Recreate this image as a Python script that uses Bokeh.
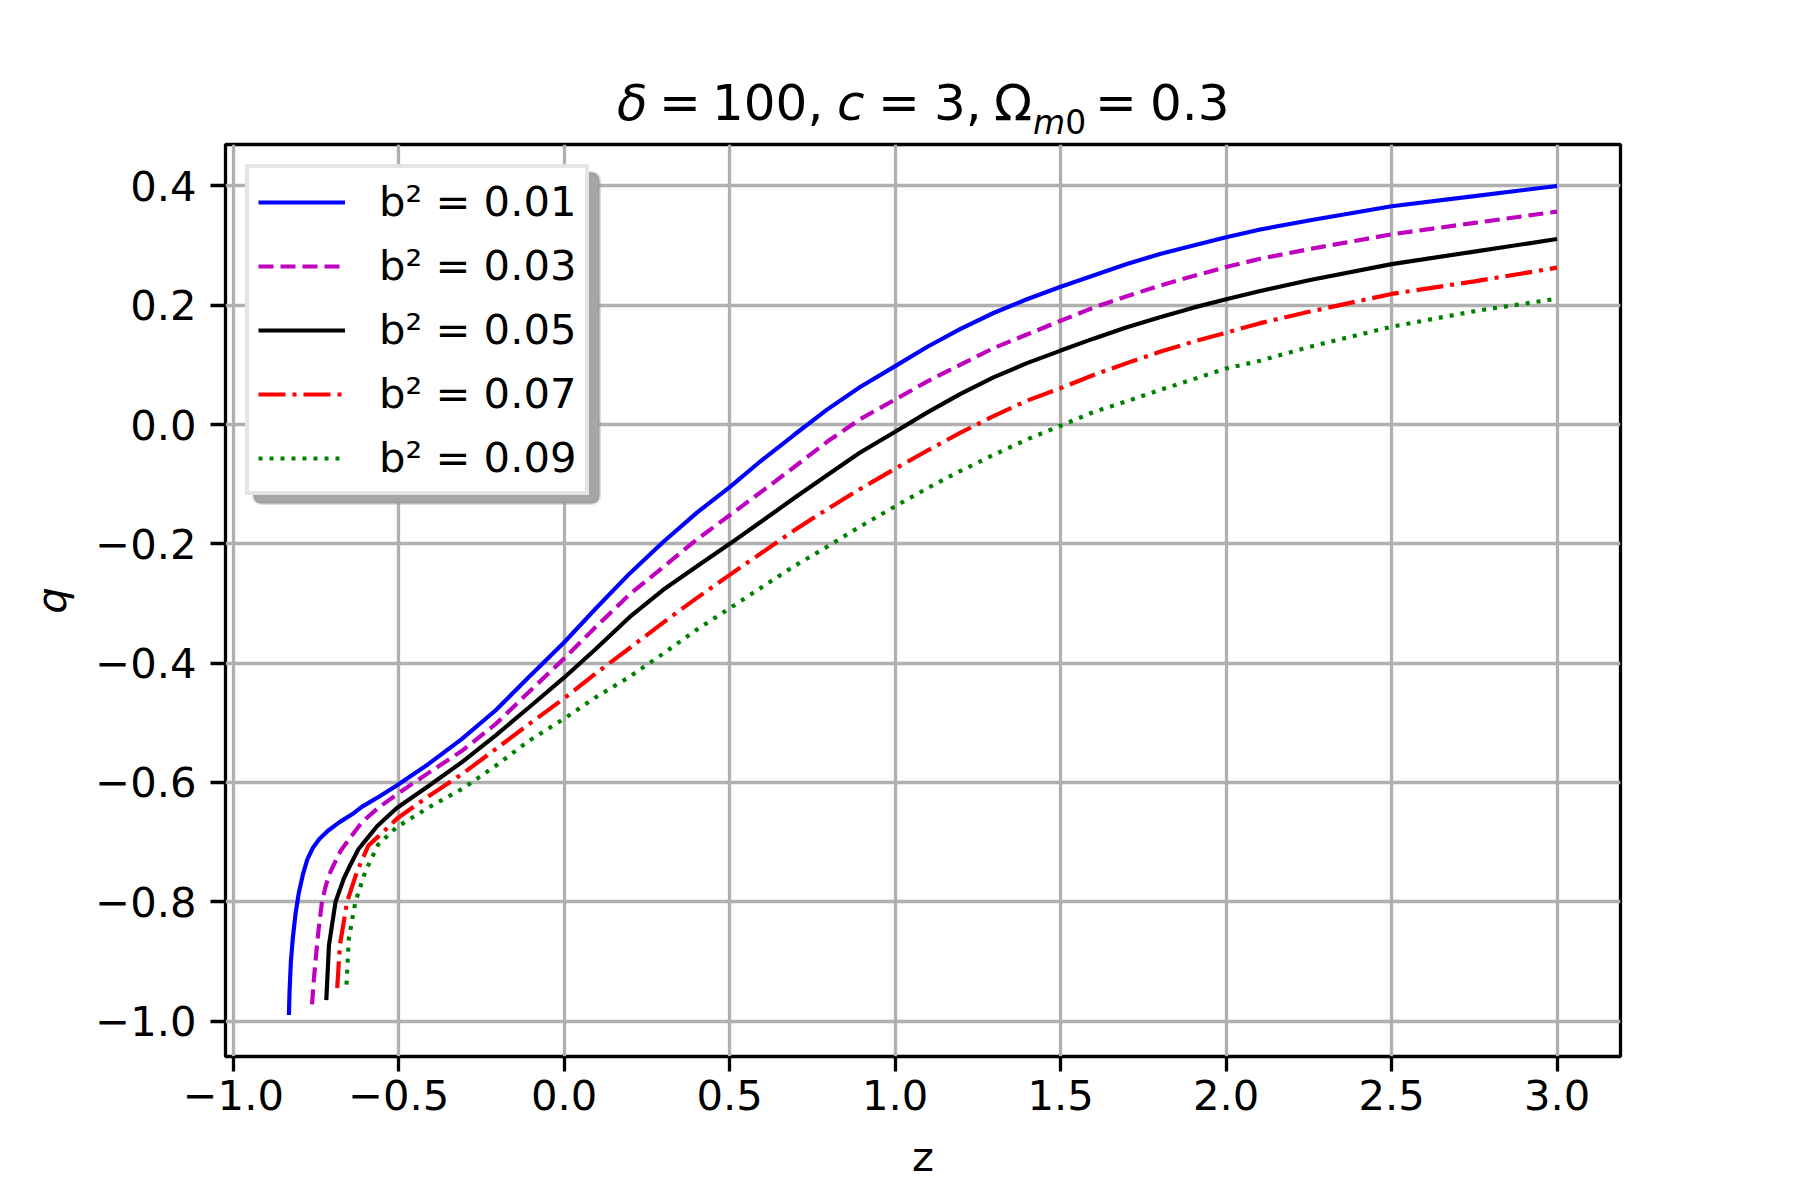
import numpy as np
from bokeh.plotting import figure
from bokeh.layouts import column
from bokeh.models import (Range1d, FixedTicker, CustomJSTickFormatter, Legend,
                          LegendItem, BoxAnnotation, Div)
from bokeh.embed import file_html
from bokeh.resources import INLINE

# ---------------- data ----------------
z_b01 = [-0.832, -0.830, -0.826, -0.820, -0.812, -0.802, -0.790, -0.777, -0.760,
         -0.740, -0.714, -0.680, -0.640, -0.612, -0.560, -0.506, -0.410, -0.309,
         -0.207, -0.106, 0.000, 0.096, 0.197, 0.299, 0.400, 0.500, 0.592, 0.693,
         0.794, 0.894, 1.000, 1.096, 1.196, 1.297, 1.398, 1.500, 1.599, 1.700,
         1.800, 1.901, 2.000, 2.103, 2.250, 2.500, 2.750, 3.000]
q_b01 = [-0.990, -0.950, -0.900, -0.860, -0.820, -0.785, -0.755, -0.730, -0.710,
         -0.695, -0.681, -0.667, -0.653, -0.641, -0.624, -0.605, -0.569, -0.527,
         -0.479, -0.423, -0.365, -0.308, -0.250, -0.197, -0.148, -0.105, -0.062, -0.018,
         0.025, 0.063, 0.098, 0.130, 0.160, 0.187, 0.210, 0.231, 0.250, 0.269,
         0.286, 0.300, 0.314, 0.327, 0.342, 0.366, 0.383, 0.400]

z_b03 = [-0.762, -0.758, -0.752, -0.743, -0.732, -0.720, -0.706, -0.676, -0.650,
         -0.612, -0.565, -0.506, -0.410, -0.309, -0.207, -0.106, 0.000, 0.096, 0.197,
         0.299, 0.400, 0.500, 0.602, 0.693, 0.794, 0.894, 1.000, 1.096, 1.196,
         1.297, 1.398, 1.500, 1.599, 1.700, 1.800, 1.901, 2.000, 2.103, 2.250,
         2.500, 2.750, 3.000]
q_b03 = [-0.972, -0.940, -0.901, -0.850, -0.800, -0.772, -0.749, -0.715, -0.695,
         -0.667, -0.644, -0.620, -0.584, -0.547, -0.502, -0.448, -0.392, -0.339, -0.285,
         -0.239, -0.193, -0.152, -0.110, -0.072, -0.029, 0.009, 0.042, 0.072, 0.100,
         0.128, 0.151, 0.174, 0.196, 0.215, 0.233, 0.249, 0.264, 0.278, 0.294,
         0.319, 0.338, 0.357]

z_b05 = [-0.719, -0.711, -0.691, -0.666, -0.646, -0.622, -0.590, -0.565, -0.506,
         -0.410, -0.309, -0.207, -0.106, 0.000, 0.096, 0.197, 0.299, 0.400, 0.500,
         0.602, 0.693, 0.794, 0.894, 1.000, 1.096, 1.196, 1.297, 1.398, 1.500,
         1.599, 1.700, 1.800, 1.901, 2.000, 2.103, 2.250, 2.500, 2.750, 3.000]
q_b05 = [-0.965, -0.873, -0.800, -0.761, -0.738, -0.712, -0.690, -0.673, -0.643,
         -0.606, -0.566, -0.521, -0.474, -0.424, -0.376, -0.323, -0.277, -0.238, -0.200,
         -0.160, -0.124, -0.085, -0.047, -0.012, 0.020, 0.051, 0.079, 0.103, 0.124,
         0.144, 0.163, 0.180, 0.196, 0.210, 0.224, 0.242, 0.269, 0.290, 0.311]

z_b07 = [-0.686, -0.678, -0.656, -0.626, -0.592, -0.545, -0.506, -0.410, -0.309,
         -0.207, -0.106, 0.000, 0.096, 0.197, 0.299, 0.400, 0.500, 0.602, 0.693,
         0.794, 0.894, 1.000, 1.096, 1.196, 1.297, 1.398, 1.500, 1.599, 1.700,
         1.800, 1.901, 2.000, 2.103, 2.250, 2.500, 2.750, 3.000]
q_b07 = [-0.945, -0.873, -0.800, -0.749, -0.706, -0.682, -0.661, -0.623, -0.586,
         -0.544, -0.502, -0.459, -0.417, -0.375, -0.332, -0.291, -0.252, -0.213, -0.178,
         -0.142, -0.108, -0.074, -0.044, -0.014, 0.014, 0.040, 0.061, 0.083, 0.103,
         0.122, 0.139, 0.154, 0.170, 0.189, 0.219, 0.240, 0.263]

z_b09 = [-0.658, -0.651, -0.631, -0.601, -0.562, -0.535, -0.506, -0.410, -0.309,
         -0.207, -0.106, 0.000, 0.096, 0.197, 0.299, 0.400, 0.500, 0.602, 0.693,
         0.794, 0.894, 1.000, 1.096, 1.196, 1.297, 1.398, 1.500, 1.599, 1.700,
         1.800, 1.901, 2.000, 2.103, 2.250, 2.500, 2.750, 3.000]
q_b09 = [-0.939, -0.862, -0.800, -0.749, -0.704, -0.690, -0.675, -0.642, -0.611,
         -0.572, -0.530, -0.493, -0.457, -0.423, -0.384, -0.344, -0.308, -0.271, -0.238,
         -0.205, -0.171, -0.137, -0.107, -0.078, -0.051, -0.025, -0.002, 0.021, 0.039,
         0.058, 0.076, 0.094, 0.107, 0.130, 0.164, 0.190, 0.211]

series_labels = ["b\u00b2 = 0.01", "b\u00b2 = 0.03", "b\u00b2 = 0.05",
                 "b\u00b2 = 0.07", "b\u00b2 = 0.09"]
x_ticks = [-1.0, -0.5, 0.0, 0.5, 1.0, 1.5, 2.0, 2.5, 3.0]
y_ticks = [-1.0, -0.8, -0.6, -0.4, -0.2, 0.0, 0.2, 0.4]
x_label = "z"
y_label = "q"

# ---------------- styling ----------------
FONT = "DejaVu Sans"
TICK_FS = "41.7px"
LW = 4.17
colors = ["#0000ff", "#bf00bf", "#000000", "#ff0000", "#008000"]
dashes = ["solid", "15 7", "solid", "27 7 4 7", "4 7"]

zs = [z_b01, z_b03, z_b05, z_b07, z_b09]
qs = [q_b01, q_b03, q_b05, q_b07, q_b09]

all_z = np.concatenate([np.array(a) for a in zs])
all_q = np.concatenate([np.array(a) for a in qs])
xpad = 0.05 * (all_z.max() - all_z.min())
ypad = 0.05 * (all_q.max() - all_q.min())
x0, x1 = all_z.min() - xpad, all_z.max() + xpad
y0, y1 = all_q.min() - ypad, all_q.max() + ypad

PAGE_W, PAGE_H = 1796, 1196
DIV_H = 140
FL, FT, FW, FH = 225, 144, 1395, 912   # frame position on page

p = figure(frame_width=FW, frame_height=FH,
           x_range=Range1d(x0, x1), y_range=Range1d(y0, y1),
           output_backend="svg", toolbar_location=None,
           min_border_left=FL, min_border_top=FT - DIV_H,
           min_border_right=PAGE_W - FL - FW, min_border_bottom=PAGE_H - FT - FH,
           background_fill_color="white", border_fill_color="white",
           margin=(0, 0, 0, 0))

p.outline_line_color = "black"
p.outline_line_width = 3.3

for ax in (p.xaxis[0], p.yaxis[0]):
    ax.axis_line_color = None
    ax.major_tick_out = 15
    ax.major_tick_in = 0
    ax.major_tick_line_width = 3.3
    ax.major_tick_line_color = "black"
    ax.minor_tick_line_color = None
    ax.major_label_text_font = FONT
    ax.major_label_text_font_size = TICK_FS
    ax.major_label_text_color = "black"
    ax.axis_label_text_font = FONT
    ax.axis_label_text_font_size = TICK_FS
    ax.axis_label_text_color = "black"
    ax.formatter = CustomJSTickFormatter(code="return tick.toFixed(1).replace('-', '\\u2212');")

p.xaxis[0].major_label_standoff = 8
p.yaxis[0].major_label_standoff = 14
p.xaxis[0].ticker = FixedTicker(ticks=x_ticks)
p.yaxis[0].ticker = FixedTicker(ticks=y_ticks)
p.xaxis[0].axis_label = x_label
p.yaxis[0].axis_label = y_label
p.xaxis[0].axis_label_text_font_style = "normal"
p.yaxis[0].axis_label_text_font_style = "italic"
p.xaxis[0].axis_label_standoff = 19
p.yaxis[0].axis_label_standoff = 16

p.grid.grid_line_color = "#b0b0b0"
p.grid.grid_line_width = 3.3
p.xgrid.ticker = FixedTicker(ticks=x_ticks)
p.ygrid.ticker = FixedTicker(ticks=y_ticks)

renderers = []
for z, q, c, d in zip(zs, qs, colors, dashes):
    r = p.line(z, q, line_color=c, line_width=LW, line_dash=d)
    renderers.append(r)

# legend shadow: page pixel positions converted to data coordinates
sx = FW / (x1 - x0)
sy = FH / (y1 - y0)
def cx(px):
    return x0 + (px - FL) / sx
def cy(py):
    return y1 - (py - FT) / sy
shadow = BoxAnnotation(left=cx(253), right=cx(599), top=cy(172), bottom=cy(503),
                       fill_color="#a6a6a6", fill_alpha=1.0, line_color="#8c8c8c",
                       line_width=3, border_radius=8)
p.add_layout(shadow)

legend = Legend(items=[LegendItem(label=l, renderers=[r]) for l, r in zip(series_labels, renderers)],
                location="top_left", margin=20, padding=9, spacing=15,
                glyph_width=87, glyph_height=40, label_height=45, label_standoff=34,
                label_text_font=FONT, label_text_font_size=TICK_FS,
                label_text_color="black", label_text_baseline="middle",
                border_line_color="#cccccc", border_line_width=4.2,
                background_fill_color="white", background_fill_alpha=1.0)
p.add_layout(legend)

# title (mathtext-like pieces, absolutely positioned in page pixels)
TB = 120       # baseline of main title text
SB = 134       # baseline of subscript
pieces = [
    ("<i>\u03b4</i>", 617, TB, 50),
    ("=", 659, TB, 50),
    ("100,", 712, TB, 50),
    ("<i>c</i>", 837, TB, 50),
    ("=", 878, TB, 50),
    ("3,", 934, TB, 50),
    ("\u03a9", 994, TB, 50),
    ("<i>m</i>0", 1033, SB, 33),
    ("=", 1095, TB, 50),
    ("0.3", 1150, TB, 50),
]
spans = []
for html, x, base, fs in pieces:
    top = base - (0.928 * fs - (1.164 * fs - fs) / 2.0)
    spans.append(
        f'<span style="position:absolute;left:{x}px;top:{top:.1f}px;'
        f'font-size:{fs}px;line-height:{fs}px;white-space:nowrap;">{html}</span>')
title_html = (f'<div style="position:relative;width:{PAGE_W}px;height:{DIV_H}px;'
              f'font-family:\'DejaVu Sans\';color:#000000;">' + "".join(spans) + '</div>')
title_div = Div(text=title_html, width=PAGE_W, height=DIV_H, margin=(0, 0, 0, 0))

layout = column(title_div, p, spacing=0, margin=(0, 0, 0, 0))

open("out.html", "w").write(file_html(layout, INLINE))
